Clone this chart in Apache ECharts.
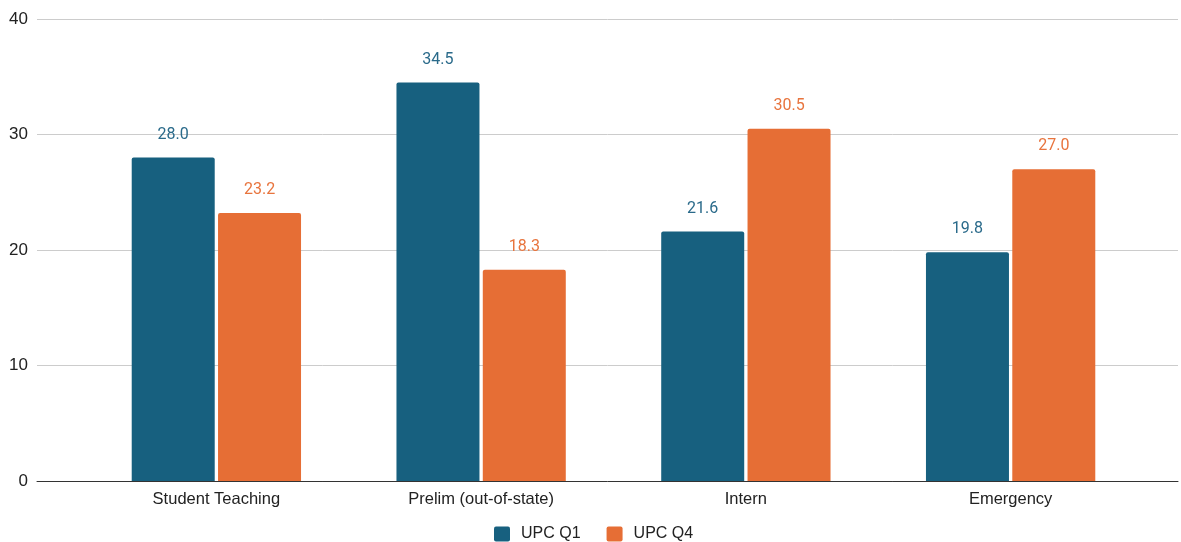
<!DOCTYPE html>
<html>
<head>
<meta charset="utf-8">
<script src="https://cdn.jsdelivr.net/npm/echarts@6/dist/echarts.min.js"></script>
<style>
  html, body { margin: 0; padding: 0; background: #fff; }
  #chart { width: 1181px; height: 542px; }
</style>
</head>
<body>
<div id="chart"></div>
<script>
// Chart data
const categories = ['Student Teaching', 'Prelim (out-of-state)', 'Intern', 'Emergency'];
const upcQ1 = [28.0, 34.5, 21.6, 19.8];
const upcQ4 = [23.2, 18.3, 30.5, 27.0];
const seriesNames = ['UPC Q1', 'UPC Q4'];
const yTicks = { min: 0, max: 40, interval: 10 };

const colorQ1 = '#17607f';
const colorQ4 = '#e66e35';
const axisFont = '"Liberation Sans", Arial, sans-serif';
const labelFont = 'Roboto, "Liberation Sans", sans-serif';
// legend swatch: square with slightly rounded corners
const swatch = 'path://M2,0H14A2,2 0 0 1 16,2V13A2,2 0 0 1 14,15H2A2,2 0 0 1 0,13V2A2,2 0 0 1 2,0Z';

const chart = echarts.init(document.getElementById('chart'));

function barSeries(name, data, color, labelColor) {
  return {
    name: name,
    type: 'bar',
    xAxisIndex: 1,
    yAxisIndex: 1,
    data: data,
    barWidth: 83,
    barGap: '4%',
    itemStyle: { color: color, borderRadius: [2, 2, 0, 0] },
    label: {
      show: true,
      position: 'top',
      distance: 15,
      color: labelColor,
      fontFamily: labelFont,
      fontSize: 16,
      formatter: p => p.value.toFixed(1)
    }
  };
}

chart.setOption({
  animation: false,
  backgroundColor: '#ffffff',
  legend: {
    top: 526,
    left: 494,
    padding: 0,
    itemWidth: 16,
    itemHeight: 15,
    itemGap: 26,
    icon: swatch,
    textStyle: { fontFamily: axisFont, fontSize: 16, color: '#222', padding: [0, 0, 0, 6] },
    data: seriesNames
  },
  grid: [
    // full-width grid carrying the gridlines, value ticks and baseline
    { left: 37, right: 3, top: 19, height: 462 },
    // inset grid in which the category bars are laid out
    { left: 84, right: 38, top: 19, height: 462 }
  ],
  xAxis: [
    {
      gridIndex: 0,
      type: 'category',
      data: categories,
      axisLine: { show: true, lineStyle: { color: '#333', width: 1 } },
      axisTick: { show: false },
      axisLabel: { show: false }
    },
    {
      gridIndex: 1,
      type: 'category',
      data: categories,
      axisLine: { show: false },
      axisTick: { show: false },
      axisLabel: {
        color: '#222',
        fontFamily: axisFont,
        fontSize: 16.5,
        margin: 10
      }
    }
  ],
  yAxis: [
    {
      gridIndex: 0,
      type: 'value',
      min: yTicks.min,
      max: yTicks.max,
      interval: yTicks.interval,
      axisLine: { show: false },
      axisTick: { show: false },
      splitLine: { lineStyle: { color: '#cccccc', width: 1 } },
      axisLabel: {
        color: '#222',
        fontFamily: axisFont,
        fontSize: 17,
        margin: 9
      }
    },
    {
      gridIndex: 1,
      type: 'value',
      min: yTicks.min,
      max: yTicks.max,
      interval: yTicks.interval,
      show: false
    }
  ],
  series: [
    barSeries(seriesNames[0], upcQ1, colorQ1, '#2a6a8a'),
    barSeries(seriesNames[1], upcQ4, colorQ4, '#e8743d')
  ]
});
</script>
</body>
</html>
